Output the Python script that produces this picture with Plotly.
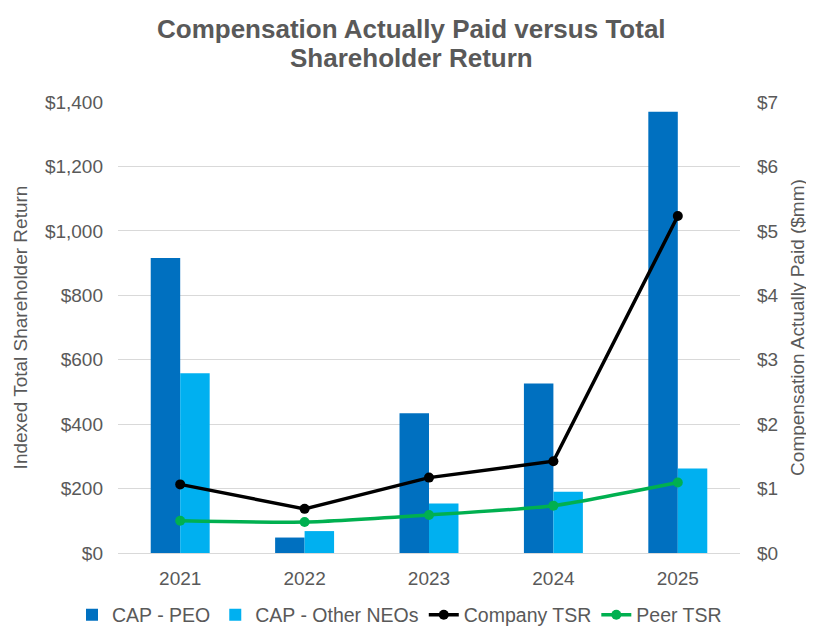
import plotly.graph_objects as go

years = ["2021", "2022", "2023", "2024", "2025"]
cap_peo = [4.58, 0.24, 2.17, 2.63, 6.85]
cap_other = [2.79, 0.34, 0.77, 0.95, 1.31]
company_tsr = [213, 137, 234, 285, 1046]
peer_tsr = [100, 96, 118, 147, 219]

left_ticks = [0, 200, 400, 600, 800, 1000, 1200, 1400]
left_labels = ["$0", "$200", "$400", "$600", "$800", "$1,000", "$1,200", "$1,400"]
right_ticks = [0, 1, 2, 3, 4, 5, 6, 7]
right_labels = ["$0", "$1", "$2", "$3", "$4", "$5", "$6", "$7"]

title_lines = ["Compensation Actually Paid versus Total", "Shareholder Return"]

GRAY = "#595959"
FONT = "Arial, Liberation Sans, sans-serif"
FS = 19

# page offset of the figure inside the browser (body margin)
OFF = 8
L, T, R, B = 118 - OFF, 102 - OFF, 740 - OFF, 553 - OFF
W, H = 814, 630
PW, PH = R - L, B - T


def px_x(xpage):
    return (xpage - OFF - L) / PW


def px_y(ypage):
    return (B - (ypage - OFF)) / PH


fig = go.Figure()
fig.add_trace(go.Bar(x=years, y=cap_peo, name="CAP - PEO", marker_color="#0070C0",
                     marker_line_width=0, yaxis="y"))
fig.add_trace(go.Bar(x=years, y=cap_other, name="CAP - Other NEOs", marker_color="#00B0F0",
                     marker_line_width=0, yaxis="y"))
fig.add_trace(go.Scatter(x=years, y=company_tsr, name="Company TSR", mode="lines+markers",
                         line=dict(color="black", width=3.5),
                         marker=dict(color="black", size=10), yaxis="y2"))
fig.add_trace(go.Scatter(x=years, y=peer_tsr, name="Peer TSR", mode="lines+markers",
                         line=dict(color="#00B050", width=3.5, shape="spline", smoothing=0.6),
                         marker=dict(color="#00B050", size=10), yaxis="y2"))

for txt, ypage in zip(title_lines, [29, 58]):
    fig.add_annotation(text="<b>" + txt + "</b>", xref="paper", yref="paper",
                       x=px_x(411.5), y=px_y(ypage),
                       xanchor="center", yanchor="middle", showarrow=False,
                       font=dict(family=FONT, size=26, color=GRAY))

fig.update_layout(
    width=W, height=H,
    paper_bgcolor="white", plot_bgcolor="white",
    margin=dict(l=L, r=W - R, t=T, b=H - B, autoexpand=False),
    barmode="group", bargap=0.526, bargroupgap=0,
    font=dict(family=FONT, color=GRAY, size=FS),
    xaxis=dict(type="category", showgrid=False, showline=True, linecolor="#D9D9D9",
               ticks="", automargin=False, ticklabelstandoff=8,
               tickfont=dict(size=FS, color=GRAY, family=FONT)),
    yaxis=dict(side="right", range=[0, 7], tickvals=right_ticks, ticktext=right_labels,
               showgrid=True, gridcolor="#D9D9D9", gridwidth=1, zeroline=False,
               automargin=False, ticks="", ticklabelstandoff=16,
               tickfont=dict(size=FS, color=GRAY, family=FONT),
               title=dict(text="Compensation Actually Paid ($mm)",
                          font=dict(size=FS, color=GRAY, family=FONT), standoff=13)),
    yaxis2=dict(side="left", overlaying="y", range=[0, 1400], tickvals=left_ticks,
                ticktext=left_labels, showgrid=False, zeroline=False,
                automargin=False, ticks="", ticklabelstandoff=14,
                tickfont=dict(size=FS, color=GRAY, family=FONT),
                title=dict(text="Indexed Total Shareholder Return",
                           font=dict(size=FS, color=GRAY, family=FONT), standoff=12)),
    legend=dict(orientation="h", x=px_x(72), xanchor="left",
                y=px_y(615), yanchor="middle",
                font=dict(family=FONT, size=19.5, color=GRAY), traceorder="normal",
                itemwidth=30, tracegroupgap=0),
)

fig.write_html("out.html")
